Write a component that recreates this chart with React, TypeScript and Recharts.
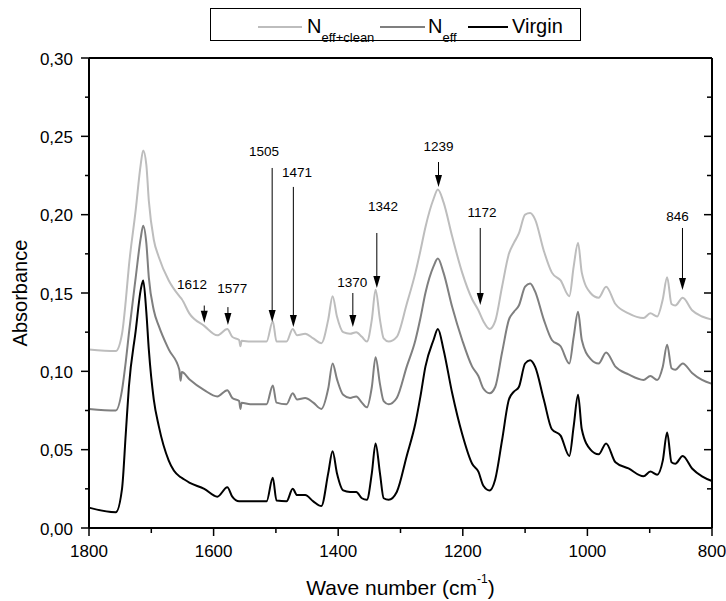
import React from 'react';
import { LineChart, Line, XAxis, YAxis, ReferenceLine, ReferenceDot } from 'recharts';

const FONT = 'Arial, "Liberation Sans", sans-serif';

// wave numbers (cm-1)
const wavenumbers = [
  1800, 1757, 1747, 1741, 1736, 1725, 1717, 1713, 1708, 1704,
  1696, 1688, 1672, 1655, 1653, 1651, 1639, 1615, 1594, 1578,
  1570, 1559, 1557, 1555, 1541, 1515, 1505, 1499, 1483, 1473,
  1466, 1453, 1440, 1427, 1416, 1409, 1402, 1392, 1381, 1371,
  1362, 1354, 1346, 1340, 1333, 1327, 1319, 1306, 1290, 1276,
  1268, 1260, 1247, 1240, 1231, 1217, 1201, 1185, 1175, 1167,
  1157, 1148, 1137, 1126, 1118, 1110, 1100, 1092, 1084, 1070,
  1057, 1043, 1029, 1022, 1015, 1009, 995, 982, 970, 955,
  934, 910, 899, 888, 879, 872, 865, 859, 847, 832,
  816, 800,
];

const nEffClean = [
  0.114, 0.113, 0.124, 0.145, 0.167, 0.203, 0.232, 0.241, 0.232, 0.209,
  0.184, 0.173, 0.158, 0.148, 0.147, 0.146, 0.137, 0.129, 0.123, 0.127,
  0.122, 0.120, 0.116, 0.1195, 0.119, 0.119, 0.132, 0.119, 0.119, 0.127,
  0.123, 0.124, 0.121, 0.118, 0.133, 0.148, 0.135, 0.125, 0.124, 0.125,
  0.122, 0.119, 0.133, 0.152, 0.133, 0.121, 0.119, 0.122, 0.143, 0.163,
  0.177, 0.192, 0.210, 0.216, 0.208, 0.186, 0.163, 0.146, 0.139, 0.132,
  0.127, 0.132, 0.154, 0.175, 0.182, 0.188, 0.200, 0.201, 0.197, 0.177,
  0.163, 0.158, 0.148, 0.167, 0.182, 0.163, 0.150, 0.147, 0.154, 0.143,
  0.137, 0.134, 0.137, 0.135, 0.146, 0.160, 0.143, 0.142, 0.147, 0.139,
  0.135, 0.133,
];

const nEff = [
  0.076, 0.075, 0.088, 0.106, 0.124, 0.160, 0.185, 0.193, 0.182, 0.160,
  0.139, 0.129, 0.114, 0.101, 0.094, 0.0995, 0.095, 0.088, 0.084, 0.088,
  0.083, 0.081, 0.076, 0.080, 0.079, 0.079, 0.091, 0.080, 0.079, 0.086,
  0.082, 0.083, 0.080, 0.076, 0.089, 0.105, 0.095, 0.085, 0.083, 0.084,
  0.080, 0.077, 0.090, 0.109, 0.092, 0.081, 0.079, 0.083, 0.103, 0.120,
  0.134, 0.150, 0.167, 0.172, 0.163, 0.141, 0.120, 0.103, 0.097, 0.089,
  0.086, 0.090, 0.112, 0.133, 0.138, 0.142, 0.154, 0.156, 0.151, 0.133,
  0.120, 0.116, 0.105, 0.122, 0.138, 0.120, 0.108, 0.105, 0.112, 0.103,
  0.098, 0.0945, 0.097, 0.0945, 0.103, 0.117, 0.102, 0.101, 0.105, 0.099,
  0.0945, 0.092,
];

const virgin = [
  0.013, 0.010, 0.025, 0.060, 0.090, 0.126, 0.152, 0.158, 0.138, 0.114,
  0.082, 0.065, 0.043, 0.033, 0.0325, 0.032, 0.029, 0.025, 0.020, 0.026,
  0.020, 0.017, 0.017, 0.017, 0.017, 0.017, 0.032, 0.0175, 0.017, 0.025,
  0.021, 0.021, 0.017, 0.014, 0.035, 0.049, 0.035, 0.024, 0.023, 0.023,
  0.019, 0.018, 0.035, 0.054, 0.035, 0.019, 0.018, 0.023, 0.046, 0.067,
  0.084, 0.103, 0.120, 0.127, 0.114, 0.086, 0.060, 0.041, 0.036, 0.027,
  0.024, 0.031, 0.056, 0.082, 0.087, 0.090, 0.105, 0.107, 0.103, 0.082,
  0.063, 0.059, 0.046, 0.065, 0.085, 0.063, 0.050, 0.047, 0.054, 0.042,
  0.038, 0.033, 0.036, 0.034, 0.043, 0.061, 0.042, 0.041, 0.046, 0.038,
  0.033, 0.030,
];

const xTicks = [1800, 1700, 1600, 1500, 1400, 1300, 1200, 1100, 1000, 900, 800];
const xLabelTicks = [1800, 1600, 1400, 1200, 1000, 800];
const yTicks = [0, 0.025, 0.05, 0.075, 0.1, 0.125, 0.15, 0.175, 0.2, 0.225, 0.25, 0.275, 0.3];

// peak annotations: label, arrow position, arrow start / tip, label anchor
const peakLabels = ['1612', '1577', '1505', '1471', '1370', '1342', '1239', '1172', '846'];
const peakArrowX = [1615, 1577, 1506, 1472, 1376.5, 1338, 1239, 1172, 847.4];
const peakArrowTop = [0.142, 0.141, 0.2298, 0.2177, 0.150, 0.1883, 0.2336, 0.1915, 0.1915];
const peakArrowTip = [0.131, 0.1296, 0.1315, 0.1283, 0.1283, 0.1532, 0.2177, 0.1423, 0.1519];
const peakLabelX = [1634.5, 1570, 1519, 1466, 1377.5, 1328, 1239, 1169, 855.4];
const peakLabelY = [0.1557, 0.1526, 0.2406, 0.2272, 0.157, 0.2055, 0.2438, 0.2017, 0.1991];

const series = [
  { key: 'clean', name: 'N', sub: 'eff+clean', color: '#bdbdbd' },
  { key: 'eff', name: 'N', sub: 'eff', color: '#7f7f7f' },
  { key: 'virgin', name: 'Virgin', sub: '', color: '#000000' },
];

const data = wavenumbers.map((wn, i) => ({
  wn,
  clean: nEffClean[i],
  eff: nEff[i],
  virgin: virgin[i],
}));

const isYMajor = (v: number) => Math.abs(v * 20 - Math.round(v * 20)) < 1e-6;
const fmtY = (v: number) => v.toFixed(2).replace('.', ',');

const BottomTick = ({ x, y, payload }: any) => {
  const major = xLabelTicks.includes(payload.value);
  return (
    <g>
      <line x1={x} y1={y} x2={x} y2={y + (major ? 8 : 5)} stroke="#000" strokeWidth={1.5} />
      {major && (
        <text x={x} y={y + 29} textAnchor="middle" fontSize={17} fontFamily={FONT} fill="#000">
          {payload.value}
        </text>
      )}
    </g>
  );
};

const TopTick = ({ x, y, payload }: any) => {
  const major = xLabelTicks.includes(payload.value);
  return <line x1={x} y1={y} x2={x} y2={y + (major ? 8 : 5)} stroke="#000" strokeWidth={1.5} />;
};

const LeftTick = ({ x, y, payload }: any) => {
  const major = isYMajor(payload.value);
  return (
    <g>
      <line x1={x - (major ? 8 : 4)} y1={y} x2={x} y2={y} stroke="#000" strokeWidth={1.5} />
      {major && (
        <text x={x - 16} y={y + 6.5} textAnchor="end" fontSize={17} fontFamily={FONT} fill="#000">
          {fmtY(payload.value)}
        </text>
      )}
    </g>
  );
};

const RightTick = ({ x, y, payload }: any) => {
  const major = isYMajor(payload.value);
  return <line x1={x - (major ? 8 : 5)} y1={y} x2={x} y2={y} stroke="#000" strokeWidth={1.5} />;
};

const XTitle = (props: any) => {
  const { x, y, width } = props.viewBox;
  return (
    <text x={x + width / 2} y={y + 67} textAnchor="middle" fontSize={21} fontFamily={FONT} fill="#000">
      Wave number (cm<tspan dy={-12} fontSize={12}>-1</tspan>
      <tspan dy={12}>)</tspan>
    </text>
  );
};

const YTitle = (props: any) => {
  const { x, y, height } = props.viewBox;
  const cx = x - 9;
  const cy = y + height / 2;
  return (
    <text
      x={cx}
      y={cy}
      transform={`rotate(-90 ${cx} ${cy})`}
      textAnchor="middle"
      dominantBaseline="central"
      fontSize={20}
      fontFamily={FONT}
      fill="#000"
    >
      Absorbance
    </text>
  );
};

const Arrow = (p: any) => {
  const { x1, y1, x2, y2 } = p;
  return (
    <g>
      <line x1={x1} y1={y1} x2={x2} y2={y2 - 10} stroke="#000" strokeWidth={1} />
      <polygon points={`${x2 - 3.5},${y2 - 12} ${x2 + 3.5},${y2 - 12} ${x2},${y2}`} fill="#000" />
    </g>
  );
};

const legendLayout = [
  { lineX: 258, lineW: 44, textX: 307 },
  { lineX: 380, lineW: 45, textX: 428 },
  { lineX: 468, lineW: 40, textX: 512 },
];

const Legend = () => (
  <svg width={726} height={50} style={{ position: 'absolute', left: 0, top: 0, pointerEvents: 'none' }}>
    <rect x={210.5} y={8.5} width={370} height={32} fill="none" stroke="#000" strokeWidth={1} />
    {series.map((s, i) => (
      <g key={s.key}>
        <line
          x1={legendLayout[i].lineX}
          x2={legendLayout[i].lineX + legendLayout[i].lineW}
          y1={27}
          y2={27}
          stroke={s.color}
          strokeWidth={2}
        />
        <text x={legendLayout[i].textX} y={33} fontSize={20} fontFamily={FONT} fill="#000">
          {s.name}
          {s.sub && (
            <tspan dy={9} fontSize={13}>
              {s.sub}
            </tspan>
          )}
        </text>
      </g>
    ))}
  </svg>
);

export default function App() {
  return (
    <div style={{ position: 'absolute', left: 0, top: 0, width: 726, height: 601, background: '#fff' }}>
      <LineChart width={726} height={601} data={data} margin={{ top: 57, right: 13, bottom: 43, left: 29 }}>
        <XAxis
          dataKey="wn"
          type="number"
          domain={[800, 1800]}
          reversed
          ticks={xTicks}
          interval={0}
          tickSize={0}
          tickMargin={0}
          tickLine={false}
          tick={BottomTick}
          height={30}
          axisLine={{ stroke: '#000', strokeWidth: 2 }}
          label={XTitle}
        />
        <XAxis
          xAxisId="top"
          orientation="top"
          type="number"
          domain={[800, 1800]}
          allowDataOverflow
          reversed
          ticks={xTicks}
          interval={0}
          tickSize={0}
          tickMargin={0}
          tickLine={false}
          tick={TopTick}
          height={1}
          axisLine={{ stroke: '#000', strokeWidth: 2 }}
        />
        <YAxis
          type="number"
          domain={[0, 0.3]}
          ticks={yTicks}
          interval={0}
          tickSize={0}
          tickMargin={0}
          tickLine={false}
          tick={LeftTick}
          width={60}
          axisLine={{ stroke: '#000', strokeWidth: 2 }}
          label={YTitle}
        />
        <YAxis
          yAxisId="right"
          orientation="right"
          type="number"
          domain={[0, 0.3]}
          allowDataOverflow
          ticks={yTicks}
          interval={0}
          tickSize={0}
          tickMargin={0}
          tickLine={false}
          tick={RightTick}
          width={1}
          axisLine={{ stroke: '#000', strokeWidth: 2 }}
        />
        {series.map((s) => (
          <Line
            key={s.key}
            type="monotone"
            dataKey={s.key}
            stroke={s.color}
            strokeWidth={2}
            dot={false}
            activeDot={false}
            isAnimationActive={false}
          />
        ))}
        {peakLabels.map((lbl, i) => (
          <ReferenceLine
            key={`arrow-${lbl}`}
            segment={[
              { x: peakArrowX[i], y: peakArrowTop[i] },
              { x: peakArrowX[i], y: peakArrowTip[i] },
            ]}
            shape={Arrow}
          />
        ))}
        {peakLabels.map((lbl, i) => (
          <ReferenceDot
            key={`label-${lbl}`}
            x={peakLabelX[i]}
            y={peakLabelY[i]}
            r={0}
            shape={(p: any) => (
              <text
                x={p.cx}
                y={p.cy}
                textAnchor="middle"
                dominantBaseline="central"
                fontSize={13.5}
                fontFamily={FONT}
                fill="#000"
              >
                {lbl}
              </text>
            )}
          />
        ))}
      </LineChart>
      <Legend />
    </div>
  );
}
